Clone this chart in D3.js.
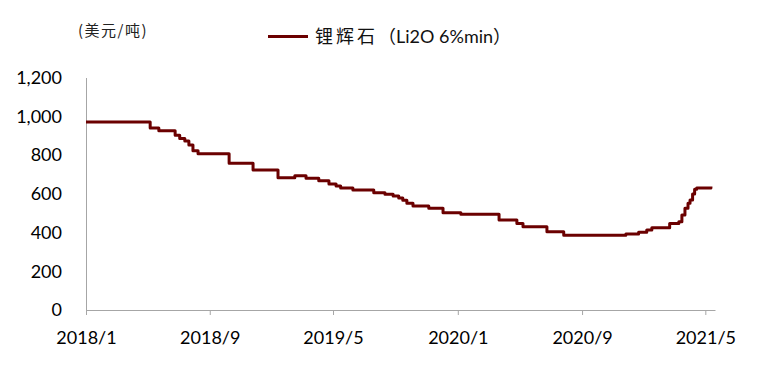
<!DOCTYPE html>
<html>
<head>
<meta charset="utf-8">
<script src="https://cdn.jsdelivr.net/npm/d3@7"></script>
<style>
  html, body { margin: 0; padding: 0; background: #fff; }
  svg { display: block; }
</style>
</head>
<body>
<svg id="chart" width="782" height="368"></svg>
<script>
// ---- data ----
const seriesNameCn = "锂辉石";
const seriesNameRest = "（Li2O 6%min）";
const unitLabel = "(美元/吨)";
const dates = [
  "2018-01-01","2018-05-07","2018-05-24","2018-06-25","2018-07-04","2018-07-14","2018-07-22","2018-07-30","2018-08-09",
  "2018-10-09","2018-11-25","2019-01-13","2019-02-15","2019-03-09","2019-04-03","2019-04-23","2019-05-07","2019-05-16",
  "2019-06-09","2019-07-20","2019-08-11","2019-08-27","2019-09-07","2019-09-15","2019-09-23","2019-10-05","2019-11-05",
  "2019-12-03","2020-01-07","2020-03-22","2020-04-26","2020-05-08","2020-06-24","2020-07-27","2020-11-26","2020-12-21",
  "2021-01-06","2021-01-16","2021-02-20","2021-03-10","2021-03-16","2021-03-22","2021-03-28","2021-04-01","2021-04-06",
  "2021-04-10","2021-04-14","2021-05-12"
];
const prices = [
  970,940,925,902,885,872,852,822,807,
  757,723,683,693,680,667,650,640,630,
  619,605,597,588,578,566,551,537,525,
  502,494,464,447,430,404,386,392,401,
  413,425,447,456,490,525,551,568,599,
  623,630,638
];
const xTickDates = ["2018-01-01","2018-09-01","2019-05-01","2020-01-01","2020-09-01","2021-05-01"];
const xTickLabels = ["2018/1","2018/9","2019/5","2020/1","2020/9","2021/5"];
const yTicks = [0,200,400,600,800,1000,1200];

// ---- drawing ----
const parse = d3.utcParse("%Y-%m-%d");
const data = dates.map((d, i) => ({ date: parse(d), value: prices[i] }));

const svg = d3.select("#chart");
const x = d3.scaleUtc()
  .domain([parse("2018-01-01"), parse("2021-05-20")])
  .range([86, 715]);
const y = d3.scaleLinear().domain([0, 1200]).range([310, 77.5]);

const fontLatin = "Lato, 'Noto Sans CJK SC', sans-serif";
const axisColor = "#a6a6a6";

// X axis
const xAxis = d3.axisBottom(x)
  .tickValues(xTickDates.map(parse))
  .tickFormat((d, i) => xTickLabels[i])
  .tickSizeInner(5).tickSizeOuter(0).tickPadding(16);
const gx = svg.append("g").attr("transform", "translate(0,310)").call(xAxis);
gx.select(".domain").attr("stroke", axisColor);
gx.selectAll(".tick line").attr("stroke", axisColor);
gx.selectAll(".tick text")
  .attr("fill", "#000").attr("font-family", fontLatin).attr("font-size", 18);

// Y axis
const yAxis = d3.axisLeft(y)
  .tickValues(yTicks)
  .tickFormat(d3.format(","))
  .tickSize(0).tickPadding(24);
const gy = svg.append("g").attr("transform", "translate(86,0)").call(yAxis);
gy.select(".domain").attr("stroke", axisColor);
gy.selectAll(".tick text")
  .attr("fill", "#000").attr("font-family", fontLatin).attr("font-size", 18);

// Line
const line = d3.line()
  .x(d => x(d.date))
  .y(d => y(d.value))
  .curve(d3.curveStepAfter);
svg.append("path")
  .datum(data)
  .attr("fill", "none")
  .attr("stroke", "#6b0000")
  .attr("stroke-width", 3)
  .attr("stroke-linejoin", "round")
  .attr("d", line);

// Unit label
svg.append("text")
  .attr("x", 78).attr("y", 36)
  .attr("font-family", "'Noto Sans CJK SC', sans-serif")
  .attr("font-size", 15)
  .attr("letter-spacing", 1.5)
  .attr("fill", "#222")
  .text(unitLabel);

// Legend
svg.append("line")
  .attr("x1", 268).attr("x2", 308)
  .attr("y1", 36.5).attr("y2", 36.5)
  .attr("stroke", "#6b0000").attr("stroke-width", 3);
const lt = svg.append("text")
  .attr("x", 315).attr("y", 43)
  .attr("font-family", fontLatin)
  .attr("font-size", 18)
  .attr("fill", "#111");
lt.append("tspan").attr("letter-spacing", 3).text(seriesNameCn);
lt.append("tspan").text(seriesNameRest);
</script>
</body>
</html>
